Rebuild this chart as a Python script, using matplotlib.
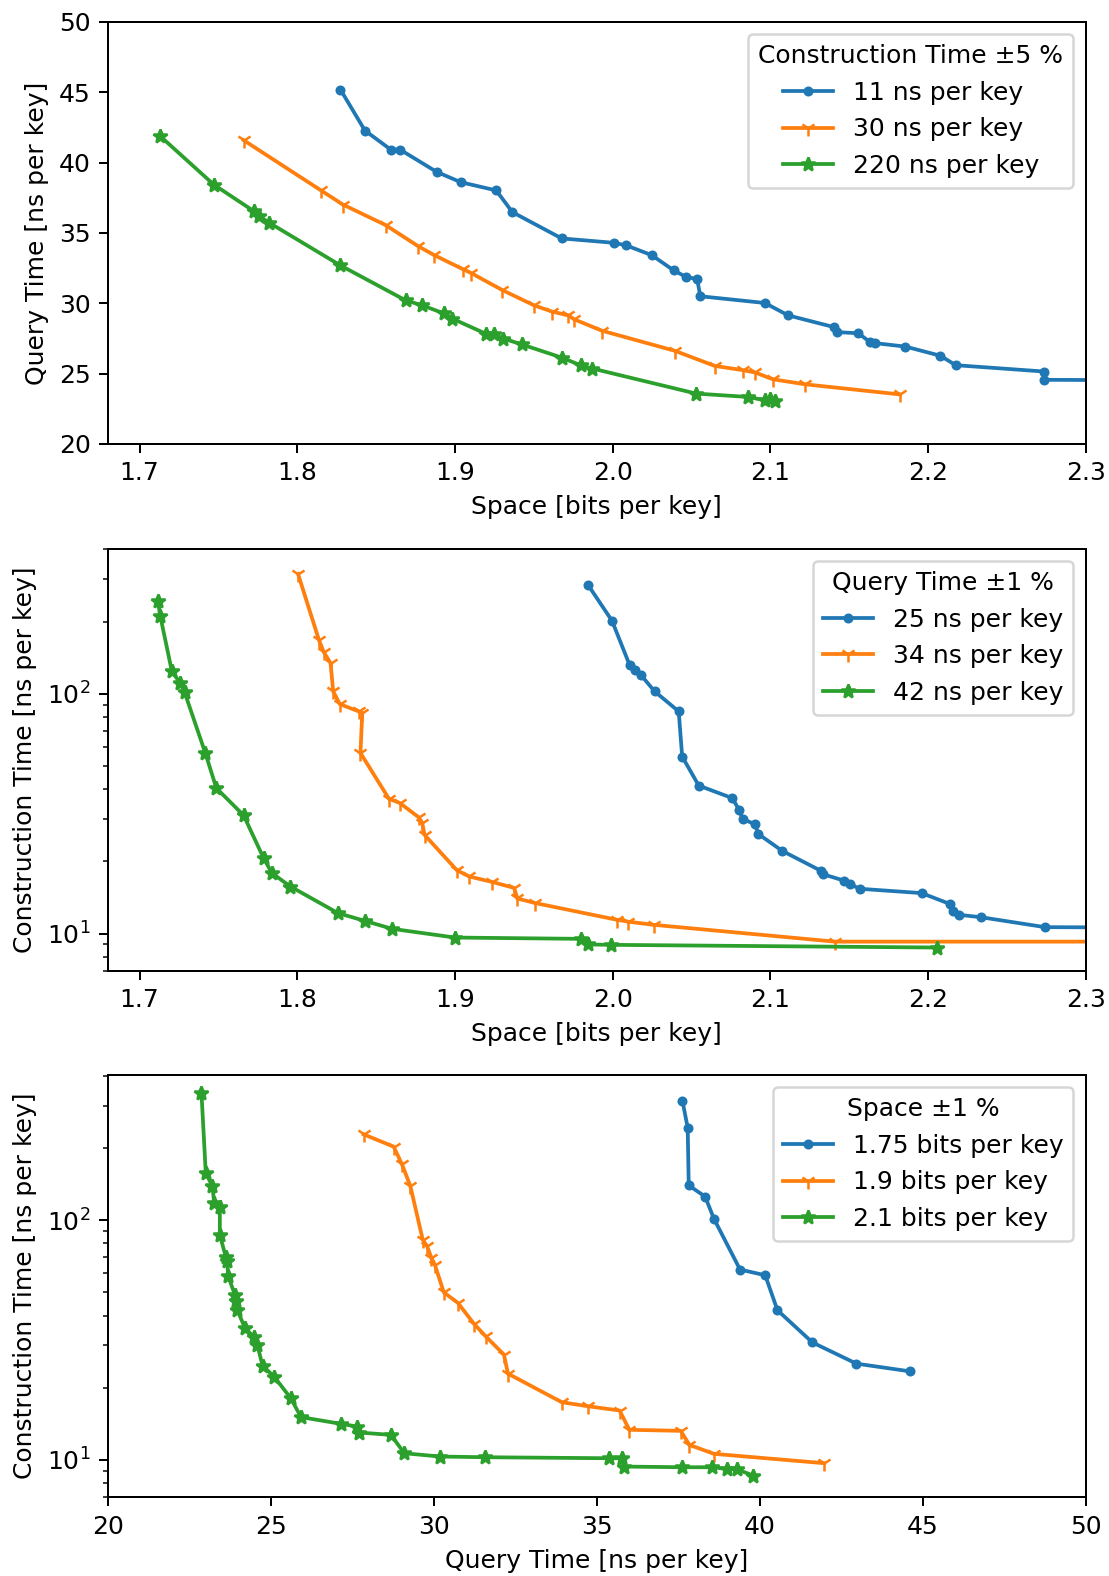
import numpy as np
import matplotlib
matplotlib.use("Agg")
import matplotlib.pyplot as plt

# Panel 1: space vs query time, grouped by construction time
space_ct11 = [1.8274, 1.8429, 1.8592, 1.8651, 1.8884, 1.9036, 1.9262, 1.9364, 1.9677,
              2.0006, 2.0085, 2.0248, 2.0387, 2.0466, 2.0536, 2.0556, 2.0966, 2.1113,
              2.1406, 2.1421, 2.1558, 2.1635, 2.1662, 2.1857, 2.2079, 2.2175, 2.2735,
              2.2737, 2.40]
query_ct11 = [45.19, 42.28, 40.93, 40.93, 39.34, 38.61, 38.02, 36.48, 34.61,
              34.30, 34.12, 33.42, 32.34, 31.87, 31.72, 30.50, 30.02, 29.14,
              28.30, 27.95, 27.87, 27.22, 27.17, 26.92, 26.27, 25.60, 25.15,
              24.56, 24.50]

space_ct30 = [1.766, 1.8151, 1.8289, 1.856, 1.8765, 1.8867, 1.9053, 1.9099, 1.93,
              1.9502, 1.9618, 1.972, 1.9756, 1.9932, 2.0395, 2.0647, 2.0829, 2.0904,
              2.1015, 2.122, 2.1823]
query_ct30 = [41.59, 38.02, 37.02, 35.56, 34.07, 33.43, 32.41, 32.17, 30.94,
              29.85, 29.40, 29.14, 28.86, 28.05, 26.62, 25.55, 25.24, 25.08,
              24.60, 24.24, 23.52]

space_ct220 = [1.7127, 1.747, 1.7724, 1.7756, 1.7823, 1.8274, 1.8687, 1.8793, 1.893,
               1.8983, 1.9195, 1.9248, 1.9307, 1.9423, 1.9677, 1.9798, 1.9872, 2.053,
               2.0861, 2.0964, 2.1, 2.1032]
query_ct220 = [41.92, 38.44, 36.55, 36.20, 35.72, 32.69, 30.21, 29.85, 29.28,
               28.91, 27.84, 27.79, 27.49, 27.08, 26.14, 25.59, 25.36, 23.58,
               23.34, 23.10, 23.17, 23.05]

# Panel 2: space vs construction time, grouped by query time
space_qt25 = [1.9846, 1.9996, 2.0107, 2.0145, 2.0178, 2.0267, 2.0419, 2.0441, 2.0546,
              2.0759, 2.0804, 2.0824, 2.0902, 2.0924, 2.1076, 2.1321, 2.1332, 2.147,
              2.1506, 2.1566, 2.196, 2.214, 2.2156, 2.2194, 2.2334, 2.2742, 2.40]
constr_qt25 = [283, 201.6, 132.1, 126, 120, 102.2, 84.4, 54.7, 41.4,
               36.7, 32.6, 30.0, 28.6, 26.0, 22.1, 18.26, 17.69, 16.6,
               16.07, 15.37, 14.74, 13.27, 12.43, 11.97, 11.7, 10.63, 10.55]

space_qt34 = [1.8005, 1.8137, 1.8168, 1.8211, 1.8228, 1.827, 1.839, 1.8412, 1.8401,
              1.8581, 1.8651, 1.8771, 1.8793, 1.8807, 1.9011, 1.9089, 1.9237, 1.9375,
              1.9396, 1.9508, 2.003, 2.010, 2.026, 2.141, 2.40]
constr_qt34 = [316, 168, 149.2, 134.3, 102.3, 90.5, 84.4, 83.1, 56.6,
               36.5, 35.0, 30.5, 28.9, 25.8, 18.4, 17.3, 16.4, 15.5,
               14.0, 13.4, 11.4, 11.2, 10.87, 9.25, 9.25]

space_qt42 = [1.7116, 1.7131, 1.7205, 1.7258, 1.7286, 1.7417, 1.7487, 1.766, 1.7787,
              1.784, 1.7957, 1.8259, 1.8429, 1.8602, 1.9, 1.9798, 1.9844, 1.9989, 2.2056]
constr_qt42 = [244.4, 211.6, 124, 110.8, 101.3, 56.6, 40.4, 31.1, 20.6,
               17.85, 15.7, 12.16, 11.29, 10.46, 9.62, 9.5, 9.0, 8.97, 8.74]

# Panel 3: query time vs construction time, grouped by space
query_sp175 = [37.626, 37.787, 37.819, 38.323, 38.591, 39.394, 40.166, 40.541, 41.613,
               42.964, 44.614]
constr_sp175 = [314.3, 243, 139.6, 125.3, 101.4, 62.2, 58.9, 42.1, 30.9, 25.2, 23.4]

query_sp19 = [27.841, 28.764, 29.021, 29.277, 29.656, 29.79, 29.923, 30.026, 30.303,
              30.733, 31.226, 31.585, 32.149, 32.272, 33.923, 34.713, 35.697, 35.997,
              37.572, 37.84, 38.59, 41.967]
constr_sp19 = [228, 202.5, 170.8, 138.7, 83.0, 77.9, 69.6, 65.3, 50.0,
               45.2, 37.0, 32.8, 27.5, 22.9, 17.4, 16.75, 16.07, 13.35,
               13.22, 11.55, 10.6, 9.69]

query_sp21 = [22.867, 23.0, 23.205, 23.256, 23.431, 23.431, 23.615, 23.656, 23.687,
              23.892, 23.923, 23.964, 24.2, 24.477, 24.579, 24.744, 25.103, 25.605,
              25.923, 27.144, 27.636, 27.687, 28.682, 29.092, 30.179, 31.564, 35.375,
              35.782, 35.825, 37.626, 38.537, 38.998, 39.287, 39.802]
constr_sp21 = [340.4, 156.7, 138.7, 118.1, 113.7, 86.6, 70.3, 67.4, 58.3,
               48.9, 45.9, 42.3, 35.5, 32.5, 30.2, 24.7, 22.2, 18.1,
               15.08, 14.14, 13.78, 13.01, 12.72, 10.66, 10.33, 10.26, 10.16,
               10.16, 9.38, 9.32, 9.32, 9.17, 9.15, 8.6]

DPI = 180

fig = plt.figure(figsize=(1109 / DPI, 1576 / DPI), dpi=DPI)
left, width, height = 0.0974, 0.8816, 0.2678
ax1 = fig.add_axes([left, 0.7183, width, height])
ax2 = fig.add_axes([left, 0.3841, width, height])
ax3 = fig.add_axes([left, 0.0501, width, height])

markers = ['.', '1', '*']

# Step 1: query time vs space
ax1.plot(space_ct11, query_ct11, marker=markers[0], label='11 ns per key')
ax1.plot(space_ct30, query_ct30, marker=markers[1], label='30 ns per key')
ax1.plot(space_ct220, query_ct220, marker=markers[2], label='220 ns per key')
ax1.set_xlim(1.68, 2.3)
ax1.set_ylim(20, 50)
ax1.set_xlabel('Space [bits per key]')
ax1.set_ylabel('Query Time [ns per key]')
ax1.legend(title='Construction Time ±5 %', loc='upper right')

# Step 2: construction time vs space
ax2.plot(space_qt25, constr_qt25, marker=markers[0], label='25 ns per key')
ax2.plot(space_qt34, constr_qt34, marker=markers[1], label='34 ns per key')
ax2.plot(space_qt42, constr_qt42, marker=markers[2], label='42 ns per key')
ax2.set_yscale('log')
ax2.set_xlim(1.68, 2.3)
ax2.set_ylim(7.0, 403)
ax2.set_xlabel('Space [bits per key]')
ax2.set_ylabel('Construction Time [ns per key]')
ax2.legend(title='Query Time ±1 %', loc='upper right')

# Step 3: construction time vs query time
ax3.plot(query_sp175, constr_sp175, marker=markers[0], label='1.75 bits per key')
ax3.plot(query_sp19, constr_sp19, marker=markers[1], label='1.9 bits per key')
ax3.plot(query_sp21, constr_sp21, marker=markers[2], label='2.1 bits per key')
ax3.set_yscale('log')
ax3.set_xlim(20, 50)
ax3.set_ylim(7.0, 403)
ax3.set_xlabel('Query Time [ns per key]')
ax3.set_ylabel('Construction Time [ns per key]')
ax3.legend(title='Space ±1 %', loc='upper right')

fig.savefig('out.png', dpi=DPI)
